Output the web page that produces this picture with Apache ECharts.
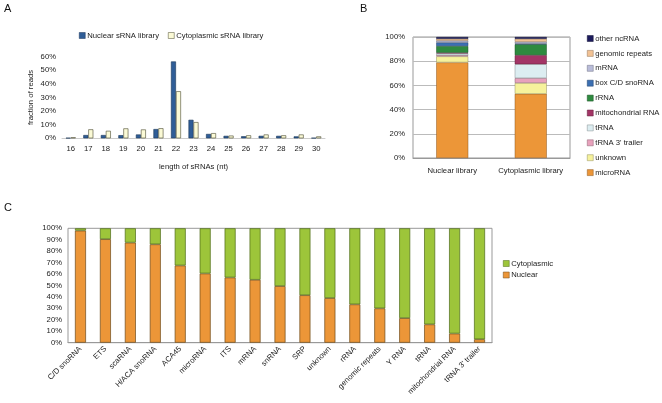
<!DOCTYPE html>
<html>
<head>
<meta charset="utf-8">
<script src="https://cdn.jsdelivr.net/npm/echarts@6/dist/echarts.min.js"></script>
<style>
html,body{margin:0;padding:0;background:#fff;}
#c{width:662px;height:403px;}
</style>
</head>
<body>
<div id="c"></div>
<script>
// ---- Panel A data ----
var lengthCats = ['16','17','18','19','20','21','22','23','24','25','26','27','28','29','30'];
var nuclearLen = [0.3, 2.4, 2.4, 2.3, 2.8, 6.8, 56.5, 13.6, 3.2, 1.8, 1.5, 1.8, 1.8, 1.4, 0.3];
var cytoLen    = [0.7, 6.6, 5.5, 7.3, 6.5, 7.4, 34.6, 11.9, 3.8, 2.0, 2.2, 2.8, 2.2, 2.8, 1.4];
var aYTicks = [0, 10, 20, 30, 40, 50, 60];

// ---- Panel B data ----
var libCats = ['Nuclear library', 'Cytoplasmic library'];
var bClasses = ['microRNA','unknown',"tRNA 3' trailer",'tRNA','mitochondrial RNA','rRNA','box C/D snoRNA','mRNA','genomic repeats','other ncRNA'];
var bNuclear = [79, 5, 1, 1.5, 0.5, 5.5, 3, 1.5, 1.5, 1.5];
var bCyto    = [53, 9, 4, 11.5, 7.5, 9, 0.5, 1.5, 2.5, 1.5];
var bColors  = ['#ec9638','#f6f29c','#e8a2bc','#dcedf1','#a33566','#2e8a3f','#3b6fb2','#b9bcd9','#f2c294','#1c1a5c'];

// ---- Panel C data ----
var rnaCats = ['C/D snoRNA','ETS','scaRNA','H/ACA snoRNA','ACA45','microRNA','ITS','mRNA','snRNA','SRP','unknown','rRNA','genomic repeats','Y RNA','tRNA','mitochondrial RNA',"tRNA 3' trailer"];
var cNuclear = [98, 90.5, 87.5, 86, 67.5, 60.5, 57, 55, 49.5, 41.5, 39, 33.5, 30, 21.5, 16, 8, 3];
var cCyto    = [2, 9.5, 12.5, 14, 32.5, 39.5, 43, 45, 50.5, 58.5, 61, 66.5, 70, 78.5, 84, 92, 97];

var FONT = 'Liberation Sans';
var FS = 7.7;
var txt = {fontFamily: FONT, fontSize: FS, color: '#222'};

function darken(hex, f) {
  var n = parseInt(hex.slice(1), 16);
  var r = Math.round(((n >> 16) & 255) * f), g = Math.round(((n >> 8) & 255) * f), b = Math.round((n & 255) * f);
  return 'rgb(' + r + ',' + g + ',' + b + ')';
}

var series = [];
// A
series.push({name: 'Nuclear sRNA library', type: 'bar', xAxisIndex: 0, yAxisIndex: 0, data: nuclearLen,
  barWidth: 5, barGap: '0%', itemStyle: {color: '#2f5d97', borderColor: '#1a3558', borderWidth: 0.6}});
series.push({name: 'Cytoplasmic sRNA library', type: 'bar', xAxisIndex: 0, yAxisIndex: 0, data: cytoLen,
  barWidth: 5, barGap: '0%', itemStyle: {color: '#fbfad6', borderColor: '#4a4a30', borderWidth: 0.6}});
// B
bClasses.forEach(function (name, i) {
  series.push({name: name, type: 'bar', stack: 'b', xAxisIndex: 1, yAxisIndex: 1,
    data: [bNuclear[i], bCyto[i]], barWidth: 32,
    itemStyle: {color: bColors[i], borderColor: darken(bColors[i], 0.6), borderWidth: 0.5}});
});
// C
series.push({name: 'Nuclear', type: 'bar', stack: 'c', xAxisIndex: 2, yAxisIndex: 2, data: cNuclear,
  barWidth: 11, itemStyle: {color: '#ec9638', borderColor: '#6e4a1a', borderWidth: 0.7}});
series.push({name: 'Cytoplasmic', type: 'bar', stack: 'c', xAxisIndex: 2, yAxisIndex: 2, data: cCyto,
  barWidth: 11, itemStyle: {color: '#9dc53a', borderColor: '#4e6a18', borderWidth: 0.7}});

var legText = {fontFamily: FONT, fontSize: FS, color: '#222', lineHeight: 9, padding: [0,0,0,-3]};
var legIcon = {borderWidth: 0.5};

var chart = echarts.init(document.getElementById('c'), null, {renderer: 'canvas'});
chart.setOption({
  animation: false,
  backgroundColor: '#fff',
  graphic: [
    {type: 'text', left: 4, top: 3, style: {text: 'A', font: '11px ' + FONT, fill: '#111'}},
    {type: 'text', left: 360, top: 3, style: {text: 'B', font: '11px ' + FONT, fill: '#111'}},
    {type: 'text', left: 4, top: 202, style: {text: 'C', font: '11px ' + FONT, fill: '#111'}}
  ],
  legend: [
    {data: ['Nuclear sRNA library', 'Cytoplasmic sRNA library'], left: 79, top: 31, padding: 0, itemWidth: 6, itemHeight: 6,
      itemGap: 9, icon: 'rect', itemStyle: legIcon, textStyle: legText},
    {data: bClasses.slice().reverse(), orient: 'vertical', left: 587, top: 34, padding: 0, itemWidth: 6, itemHeight: 6,
      itemGap: 5.9, icon: 'rect', itemStyle: legIcon, textStyle: legText},
    {data: ['Cytoplasmic', 'Nuclear'], orient: 'vertical', left: 503, top: 259, padding: 0, itemWidth: 6, itemHeight: 6,
      itemGap: 2.5, icon: 'rect', itemStyle: legIcon, textStyle: legText}
  ],
  grid: [
    {left: 62, right: 337, top: 56.7, bottom: 264.7},
    {left: 413, right: 92, top: 37, bottom: 245, show: true, borderColor: '#999', borderWidth: 1},
    {left: 68, right: 170, top: 228.3, bottom: 60.3, show: true, borderColor: '#999', borderWidth: 1}
  ],
  xAxis: [
    {type: 'category', gridIndex: 0, data: lengthCats,
      axisLine: {lineStyle: {color: '#ccc', width: 1}}, axisTick: {show: false},
      axisLabel: Object.assign({margin: 7, interval: 0}, txt),
      name: 'length of sRNAs (nt)', nameLocation: 'middle', nameGap: 25, nameTextStyle: txt},
    {type: 'category', gridIndex: 1, data: libCats,
      axisLine: {lineStyle: {color: '#999'}}, axisTick: {show: false},
      axisLabel: Object.assign({margin: 9, interval: 0}, txt)},
    {type: 'category', gridIndex: 2, data: rnaCats,
      axisLine: {lineStyle: {color: '#999'}}, axisTick: {show: false},
      axisLabel: Object.assign({margin: 5, rotate: 45, interval: 0}, txt)}
  ],
  yAxis: [
    {type: 'value', gridIndex: 0, min: 0, max: 60, interval: 10,
      axisLine: {show: false}, axisTick: {show: false}, splitLine: {show: false},
      axisLabel: Object.assign({margin: 6, formatter: '{value}%'}, txt),
      name: 'fraction of reads', nameLocation: 'middle', nameGap: 27, nameTextStyle: txt},
    {type: 'value', gridIndex: 1, min: 0, max: 100, interval: 20,
      axisLine: {show: false}, axisTick: {show: false},
      splitLine: {lineStyle: {color: '#bbb', width: 1}},
      axisLabel: Object.assign({margin: 8, formatter: '{value}%'}, txt)},
    {type: 'value', gridIndex: 2, min: 0, max: 100, interval: 10,
      axisLine: {show: false}, axisTick: {show: false}, splitLine: {show: false},
      axisLabel: Object.assign({margin: 6, formatter: '{value}%'}, txt)}
  ],
  series: series
});
</script>
</body>
</html>
